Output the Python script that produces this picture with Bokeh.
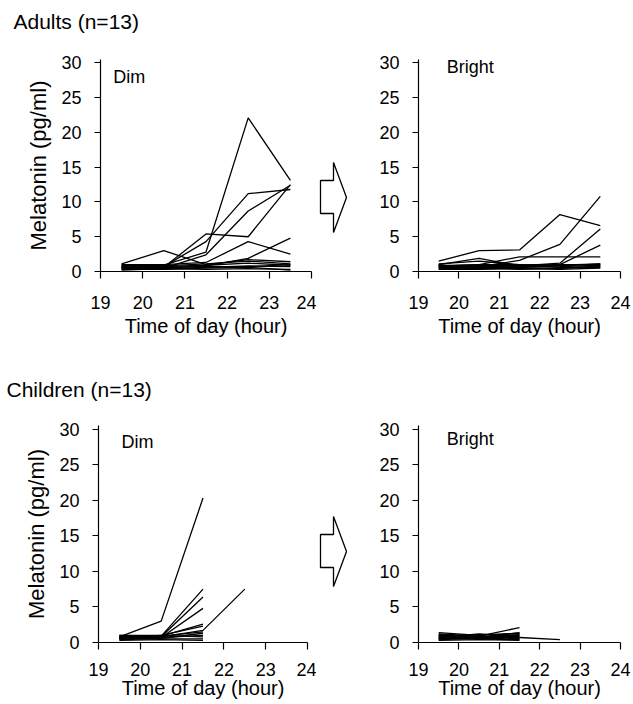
from bokeh.plotting import figure
from bokeh.layouts import row, column
from bokeh.models import Range1d, FixedTicker, Label
from bokeh.embed import file_html
from bokeh.resources import INLINE
from bokeh.core.properties import value

FONT = "Liberation Sans"

HOURS = [19.5, 20.5, 21.5, 22.5, 23.5]
X_TICKS = [19, 20, 21, 22, 23, 24]
Y_TICKS = [0, 5, 10, 15, 20, 25, 30]

# Adults, dim light (13 subjects)
adults_dim = [
    [0.8, 0.9, 2.8, 22.1, 13.1],
    [0.6, 0.7, 4.3, 11.2, 11.8],
    [0.7, 0.5, 2.4, 8.7, 12.4],
    [0.5, 0.6, 5.4, 5.0, 12.5],
    [1.0, 1.0, 1.3, 4.3, 2.5],
    [0.4, 0.5, 0.8, 1.9, 4.8],
    [1.1, 3.0, 1.0, 1.7, 1.4],
    [0.9, 0.8, 1.1, 1.5, 1.1],
    [0.6, 0.7, 0.9, 1.2, 0.9],
    [0.5, 0.4, 0.6, 0.8, 0.7],
    [0.3, 0.3, 0.5, 0.6, 0.2],
    [0.8, 0.6, 0.7, 0.7, 1.0],
    [0.2, 0.4, 0.3, 0.4, 0.3],
]

# Adults, bright light
adults_bright = [
    [1.5, 3.0, 3.1, 8.2, 6.6],
    [0.9, 0.7, 1.6, 3.9, 10.8],
    [0.8, 1.0, 2.1, 2.1, 2.1],
    [1.0, 1.9, 0.8, 1.2, 6.1],
    [0.7, 0.8, 0.9, 1.0, 3.8],
    [1.1, 1.5, 1.0, 0.9, 1.1],
    [0.6, 0.5, 0.6, 0.7, 0.9],
    [0.5, 0.4, 0.5, 0.4, 0.8],
    [0.9, 0.7, 0.8, 1.0, 1.0],
    [0.4, 0.6, 0.3, 0.5, 0.7],
    [0.8, 1.0, 1.0, 0.6, 0.6],
    [0.3, 0.3, 0.4, 0.3, 0.5],
    [0.6, 0.9, 0.7, 0.8, 1.1],
]

# Children, dim light
children_dim = [
    [0.8, 3.0, 20.3],
    [0.7, 0.9, 7.5],
    [0.6, 0.8, 6.4],
    [0.9, 0.7, 4.8],
    [0.5, 0.9, 2.6],
    [1.0, 1.0, 2.3],
    [0.6, 0.8, 1.7, 7.5],
    [0.4, 0.6, 1.3],
    [0.8, 0.7, 1.0],
    [0.5, 0.5, 0.5],
    [0.7, 1.0, 0.8],
    [0.3, 0.4, 0.3],
    [1.0, 0.9, 1.5],
]

# Children, bright light
children_bright = [
    [1.4, 1.0, 1.3],
    [1.2, 0.9, 2.1],
    [1.0, 0.8, 0.7, 0.4],
    [0.9, 1.1, 1.2],
    [0.8, 0.7, 1.0],
    [0.6, 0.5, 0.9],
    [0.5, 0.9, 0.6],
    [0.4, 0.6, 0.5],
    [1.1, 0.8, 1.1],
    [0.7, 1.2, 0.8],
    [0.3, 0.4, 0.3],
    [0.9, 0.5, 0.4],
    [0.6, 0.7, 1.4],
]

GROUP_TITLES = ["Adults (n=13)", "Children (n=13)"]
CONDITIONS = ["Dim", "Bright"]

# hollow arrow outlines (page pixel coordinates)
ARROW_X = [320, 333, 333, 346, 333, 333, 320]
ARROW_TOP_Y = [180, 180, 162, 197, 232, 213, 213]
ARROW_BOT_Y = [534, 534, 516, 551, 586, 567, 567]

Y_MAX = 30.5


def panel(series, cond, cond_x, cond_y, width, height, mbl, mbr, mbt, mbb,
          ylabel=None, xlab_standoff=17, xaxis_label_standoff=3):
    p = figure(width=width, height=height,
               x_range=Range1d(19, 24), y_range=Range1d(0, Y_MAX),
               output_backend="svg", toolbar_location=None,
               min_border_left=mbl, min_border_right=mbr,
               min_border_top=mbt, min_border_bottom=mbb)
    p.outline_line_color = None
    p.grid.visible = False
    p.background_fill_color = "white"
    p.border_fill_color = "white"

    xs = [HOURS[:len(s)] for s in series]
    p.multi_line(xs, series, line_color="black", line_width=1.3)

    for ax in (p.xaxis[0], p.yaxis[0]):
        ax.axis_line_color = "black"
        ax.axis_line_width = 1.2
        ax.major_tick_line_color = "black"
        ax.major_tick_line_width = 1.2
        ax.major_tick_in = 0
        ax.minor_tick_in = 0
        ax.minor_tick_out = 0
        ax.major_label_text_font = FONT
        ax.major_label_text_font_size = "18px"
        ax.major_label_text_color = "black"
        ax.axis_label_text_font = FONT
        ax.axis_label_text_font_size = "20px"
        ax.axis_label_text_font_style = "normal"
        ax.axis_label_text_color = "black"

    p.xaxis.ticker = FixedTicker(ticks=X_TICKS)
    p.yaxis.ticker = FixedTicker(ticks=Y_TICKS)
    p.xaxis.major_tick_out = 7
    p.yaxis.major_tick_out = 6
    p.xaxis.major_label_standoff = xlab_standoff
    p.yaxis.major_label_standoff = 13
    p.xaxis.axis_label = "Time of day (hour)"
    p.xaxis.axis_label_standoff = xaxis_label_standoff
    if ylabel:
        p.yaxis.axis_label = ylabel
        p.yaxis.axis_label_standoff = 7
        p.yaxis.axis_label_text_font_size = "22px"

    p.add_layout(Label(x=cond_x, y=cond_y, text=cond, text_font=FONT,
                       text_font_size="18px", text_baseline="middle",
                       text_color="black"))
    return p


def arrow_fig(height, mbt, mbb, frame_top, frame_bottom, ys):
    a = figure(width=40, height=height,
               x_range=Range1d(316, 356),
               y_range=Range1d(frame_bottom, frame_top),
               min_border_left=0, min_border_right=0,
               min_border_top=mbt, min_border_bottom=mbb,
               x_axis_location=None, y_axis_location=None,
               output_backend="svg", toolbar_location=None)
    a.outline_line_color = None
    a.grid.visible = False
    a.patch(ARROW_X, ys, fill_color="white", line_color="black", line_width=1.3)
    return a


def title_fig(text, top, height, tx, ty):
    t = figure(width=633, height=height,
               x_range=Range1d(0, 633), y_range=Range1d(top + height, top),
               min_border=0, min_border_left=0, min_border_right=0,
               min_border_top=0, min_border_bottom=0,
               x_axis_location=None, y_axis_location=None,
               output_backend="svg", toolbar_location=None)
    t.outline_line_color = None
    t.grid.visible = False
    t.text(x=[tx], y=[ty], text=[text], text_font=value(FONT),
           text_font_size="21px", text_baseline="middle",
           text_align="left", text_color="black")
    return t


# ---- top group (page y 0..375) ----
T1_H = 40
ROW1_H = 335
R1_MBT, R1_MBB = 19, 104          # frame page y 59..271
ROW1_TOP = T1_H
R1_FT = ROW1_TOP + R1_MBT
R1_FB = ROW1_TOP + ROW1_H - R1_MBB

t1 = title_fig(GROUP_TITLES[0], 0, T1_H, 13, 20.5)
tl = panel(adults_dim, CONDITIONS[0], 19.3, 28.0, 316, ROW1_H, 100, 5, R1_MBT, R1_MBB,
           ylabel="Melatonin (pg/ml)")
a1 = arrow_fig(ROW1_H, R1_MBT, R1_MBB, R1_FT, R1_FB, ARROW_TOP_Y)
tr = panel(adults_bright, CONDITIONS[1], 19.7, 29.4, 277, ROW1_H, 62, 13, R1_MBT, R1_MBB)

# ---- bottom group (page y 375..704) ----
T2_TOP = T1_H + ROW1_H
T2_H = 35
ROW2_TOP = T2_TOP + T2_H
ROW2_H = 704 - ROW2_TOP            # 294
R2_MBT, R2_MBB = 15, 62            # frame page y 425..642
R2_FT = ROW2_TOP + R2_MBT
R2_FB = ROW2_TOP + ROW2_H - R2_MBB

t2 = title_fig(GROUP_TITLES[1], T2_TOP, T2_H, 6, 389)
bl = panel(children_dim, CONDITIONS[0], 19.55, 28.2, 316, ROW2_H, 98, 9, R2_MBT, R2_MBB,
           ylabel="Melatonin (pg/ml)", xlab_standoff=13, xaxis_label_standoff=-2)
a2 = arrow_fig(ROW2_H, R2_MBT, R2_MBB, R2_FT, R2_FB, ARROW_BOT_Y)
br = panel(children_bright, CONDITIONS[1], 19.7, 28.6, 277, ROW2_H, 62, 13, R2_MBT, R2_MBB,
           xlab_standoff=13, xaxis_label_standoff=-2)

layout = column(t1, row(tl, a1, tr, spacing=0), t2, row(bl, a2, br, spacing=0), spacing=0)

open("out.html", "w").write(file_html(layout, INLINE))
